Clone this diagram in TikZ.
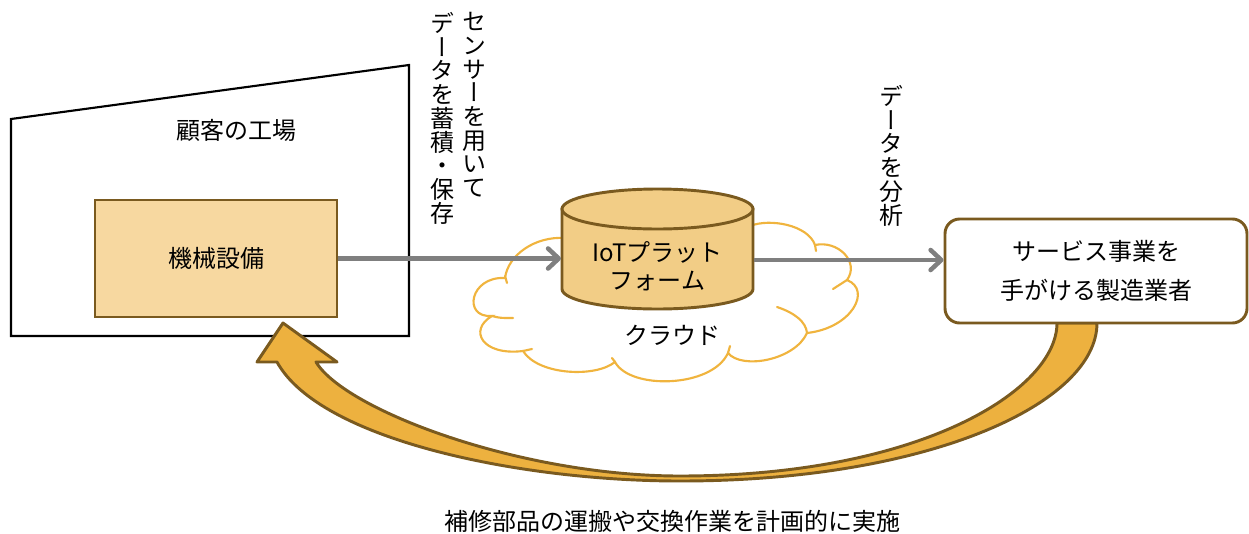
\documentclass[tikz,border=0pt]{standalone}
\usepackage{fontspec}
\setmainfont{Noto Sans CJK JP}
\newfontfamily\vjp[RawFeature=+vert]{Noto Sans CJK JP}
\newcommand\myvfont{\vjp\fontsize{18}{17.8}\selectfont\lineskiplimit=-20pt\relax}
\usetikzlibrary{arrows.meta}
\definecolor{brownc}{HTML}{7A5A1F}
\definecolor{boxfill}{HTML}{F7D8A0}
\definecolor{cylfill}{HTML}{F2CD86}
\definecolor{arrowfill}{HTML}{EDB13F}
\definecolor{cloudc}{HTML}{F0B43E}
\definecolor{grayc}{HTML}{7F7F7F}
\tikzset{
  brownbox/.style={draw=brownc, line width=2.2pt},
  grayarrow/.style={draw=grayc, line width=3.4pt,
    -{Straight Barb[length=8pt,width=15pt,line cap=round,line join=round]}},
  cloudline/.style={draw=cloudc, line width=1.6pt, line cap=round},
  vtext/.style={anchor=north, inner sep=0pt, align=center, font=\myvfont},
  plain/.style={inner sep=0pt, align=center}
}
\begin{document}
\begin{tikzpicture}[x=0.75pt,y=-0.75pt,font=\fontsize{18}{22}\selectfont]
\useasboundingbox (0,0) rectangle (1249,533);

% factory outline
\draw[black, line width=1.6pt, line join=miter] (11,119) -- (409,65) -- (409,336) -- (11,336) -- cycle;
\node[plain] (factory) at (236,130) {顧客の工場};

% cloud
\path[cloudline, fill=white]
 (565,238) .. controls (535,236) and (508,255) .. (505,278)
 .. controls (470,276) and (462,318) .. (492,316)
 .. controls (468,330) and (482,356) .. (523,351)
 .. controls (538,375) and (595,378) .. (615,362)
 .. controls (630,390) and (712,388) .. (728,353)
 .. controls (742,370) and (795,360) .. (807,333)
 .. controls (852,328) and (872,290) .. (847,280)
 .. controls (860,262) and (838,240) .. (815,245)
 .. controls (808,225) and (770,218) .. (750,226)
 -- (660,250) -- cycle;
\draw[cloudline] (505,276) -- (507,283);
\draw[cloudline] (492,316) .. controls (500,318) .. (513,318);
\draw[cloudline] (523,351) -- (532,349);
\draw[cloudline] (615,362) -- (612,358);
\draw[cloudline] (728,353) -- (730,346);
\draw[cloudline] (777,307) .. controls (795,313) and (806,322) .. (807,333);
\draw[cloudline] (847,280) -- (833,289);
\draw[cloudline] (815,245) -- (816,251);
\node[plain] (cloud) at (672,335) {クラウド};

% big curved arrow
\path[brownbox, fill=arrowfill, line join=round]
 (1057,323) -- (1097,323)
 .. controls (1097,403) and (930,481) .. (680,481)
 .. controls (520,481) and (320,440) .. (277,362)
 -- (257,362) -- (283,323) -- (337,362) -- (316,362)
 .. controls (345,410) and (520,476) .. (680,476)
 .. controls (920,476) and (1057,390) .. (1057,323) -- cycle;

% machine box
\node[brownbox, fill=boxfill, minimum width=181.5pt, minimum height=87.75pt, inner sep=0pt] (mach) at (216,258.5) {機械設備};

% cylinder
\path[brownbox, fill=cylfill]
 (562,209) -- (562,289)
 .. controls (562,300.05) and (604.8,309) .. (657.5,309)
 .. controls (710.2,309) and (753,300.05) .. (753,289)
 -- (753,209) -- cycle;
\draw[brownbox, fill=cylfill] (657.5,209) ellipse [x radius=71.6pt, y radius=15pt];
\node[plain, font=\fontsize{18}{21}\selectfont] (iot) at (657.5,266) {IoTプラット\\フォーム};
\coordinate (cylL) at (561,258.5);
\coordinate (cylR) at (754,260);

% service box
\node[brownbox, fill=white, rounded corners=11pt, minimum width=226.5pt, minimum height=78pt, inner sep=0pt,
  font=\fontsize{18}{29}\selectfont, align=center] (svc) at (1096,271) {サービス事業を\\手がける製造業者};

% gray arrows
\draw[grayarrow] (mach.east) -- (cylL);
\draw[grayarrow] (cylR) -- (cylR -| svc.west);

% vertical texts
\node[vtext] (v1) at (474,12) {セ\\ン\\サ\\ー\\を\\用\\い\\て};
\node[vtext] (v2) at (442,12) {デ\\ー\\タ\\を\\蓄\\積\\・\\保\\存};
\node[vtext] (v3) at (891,85) {デ\\ー\\タ\\を\\分\\析};

% bottom text
\node[plain] (note) at (672,521) {補修部品の運搬や交換作業を計画的に実施};
\end{tikzpicture}
\end{document}
